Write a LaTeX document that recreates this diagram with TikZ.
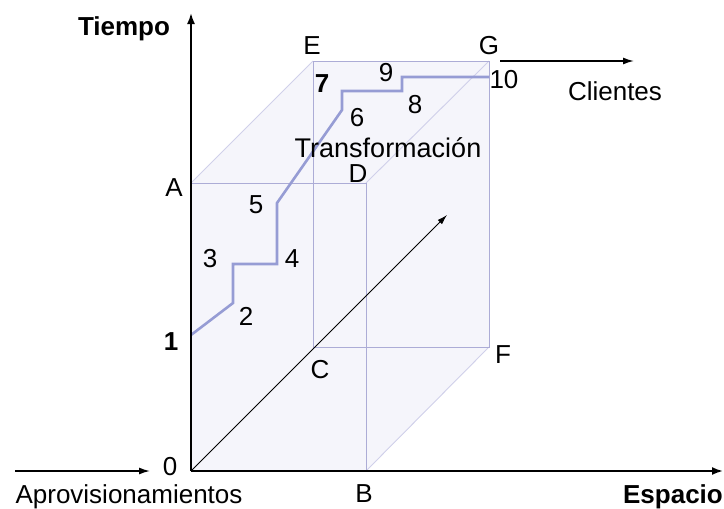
\documentclass[tikz,border=0pt]{standalone}
\usepackage{fontspec}
\setmainfont{Liberation Sans}
\usetikzlibrary{arrows.meta}
\definecolor{edgec}{RGB}{172,172,214}
\definecolor{faintc}{RGB}{208,208,234}
\definecolor{pathc}{RGB}{150,156,212}
\definecolor{cubefill}{RGB}{245,245,251}
\begin{document}
\begin{tikzpicture}[x=1pt,y=-1pt,
  lbl/.style={font=\fontsize{26}{30}\selectfont, inner sep=0pt, anchor=base},
  blbl/.style={font=\fontsize{26}{30}\selectfont\bfseries, inner sep=0pt, anchor=base},
  axis/.style={line width=1.8pt, -{Latex[length=11pt,width=8pt]}},
  flow/.style={line width=1.5pt, -{Latex[length=11pt,width=7pt]}},
  cubeedge/.style={draw=edgec, line width=0.9pt},
  cubediag/.style={draw=faintc, line width=0.9pt},
  stepline/.style={draw=pathc, line width=2.6pt, line join=miter}]
\useasboundingbox (0,0) rectangle (724,509);
% cube vertices
\coordinate (O) at (191,471);
\coordinate (B) at (366,471);
\coordinate (A) at (191,183);
\coordinate (D) at (366,183);
\coordinate (C) at (313,347);
\coordinate (F) at (489,347);
\coordinate (E) at (313,61);
\coordinate (G) at (489,61);
% fill
\fill[cubefill] (O) -- (A) -- (E) -- (G) -- (F) -- (B) -- cycle;
% edges
\draw[cubediag] (A) -- (E);
\draw[cubediag] (G) -- (D);
\draw[cubediag] (F) -- (B);
\draw[cubeedge] (A) -- (D) -- (B);
\draw[cubeedge] (C) -- (E) -- (G) -- (F) -- (C);
% stepped path
\coordinate (p1) at (191,335);
\coordinate (p2) at (233,303);
\coordinate (p3) at (233,264);
\coordinate (p4) at (277,264);
\coordinate (p5) at (277,203);
\coordinate (p6) at (342,110);
\coordinate (p7) at (342,91);
\coordinate (p8) at (402,91);
\coordinate (p9) at (402,77);
\coordinate (p10) at (489,77);
\draw[stepline] (p1) -- (p2) -- (p3) -- (p4) -- (p5) -- (p6) -- (p7) -- (p8) -- (p9) -- (p10);
% diagonal arrow
\coordinate (dtip) at (447,215);
\draw[line width=0.8pt, -{Latex[length=10pt,width=6pt]}] (O) -- (dtip);
% axes
\coordinate (ytip) at (191,13);
\coordinate (xtip) at (723,471);
\draw[axis] (O) -- (ytip);
\draw[axis] (O) -- (xtip);
% flows
\coordinate (cl0) at (500,61);
\coordinate (cl1) at (634,61);
\draw[flow] (cl0) -- (cl1);
\coordinate (ap0) at (15,471);
\coordinate (ap1) at (150,471);
\draw[flow] (ap0) -- (ap1);
% labels
\node[blbl] (tiempo) at (124,35) {Tiempo};
\node[blbl] (espacio) at (673,503) {Espacio};
\node[lbl] (aprov) at (129,503) {Aprovisionamientos};
\node[lbl] (clientes) at (615,100) {Clientes};
\node[lbl, font=\fontsize{27}{30}\selectfont] (transf) at (388,157) {Transformación};
\node[lbl] (lE) at (312,54) {E};
\node[lbl] (lG) at (489,54) {G};
\node[lbl] (lD) at (358,182) {D};
\node[lbl] (lA) at (174,196) {A};
\node[lbl] (lC) at (320,378) {C};
\node[lbl] (lF) at (503,363) {F};
\node[lbl] (lB) at (364,502) {B};
\node[lbl] (l0) at (170,475) {0};
\node[blbl] (l1) at (171,350) {1};
\node[lbl] (l2) at (246,325) {2};
\node[lbl] (l3) at (210,267) {3};
\node[lbl] (l4) at (292,267) {4};
\node[lbl] (l5) at (256,213) {5};
\node[lbl] (l6) at (357,126) {6};
\node[blbl] (l7) at (322,92) {7};
\node[lbl] (l8) at (415,113) {8};
\node[lbl] (l9) at (386,81) {9};
\node[lbl] (l10) at (504,88) {10};
\end{tikzpicture}
\end{document}
